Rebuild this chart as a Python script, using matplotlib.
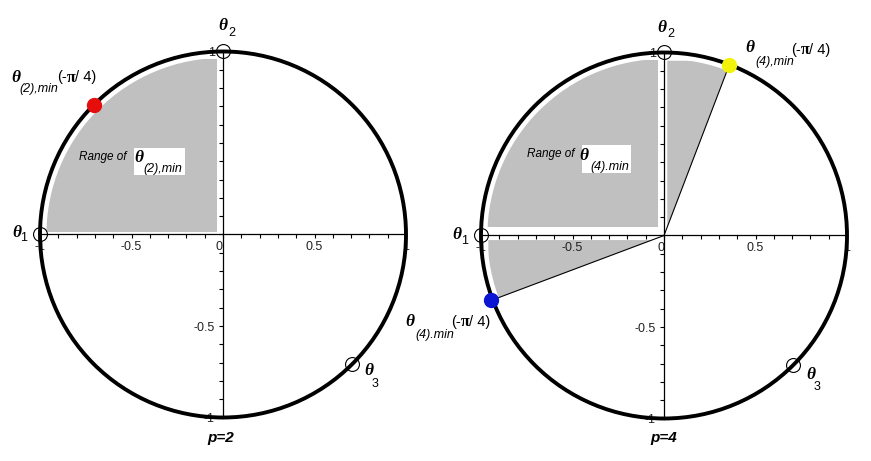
import numpy as np
import matplotlib
matplotlib.use("Agg")
import matplotlib.pyplot as plt
from matplotlib.patches import Circle, Polygon, Rectangle

# ---- data ----
tick_major = [-1, -0.5, 0, 0.5, 1]
x_tick_labels = ["-1", "-0.5", "0", "0.5", "1"]
y_tick_major = [-1, -0.5, 0.5, 1]
y_tick_labels = ["-1", "-0.5", "", "1"]
tick_minor = np.round(np.arange(-1, 1.01, 0.1), 2)

# reference points theta_1, theta_2, theta_3 on the unit circle
ref_x = [-1.0, 0.0, 0.707]
ref_y = [0.0, 1.0, -0.707]

# theta_min(-pi/4) points
red_pt = (-0.707, 0.707)      # p=2
yellow_pt = (0.357, 0.933)    # p=4
blue_pt = (-0.945, -0.355)    # p=4

# grey "range" regions (clipped by a circle slightly inside the unit circle)
gray_p2 = [(-0.98, 0.015), (-0.035, 0.015), (-0.035, 0.96), (-0.98, 0.96)]
gray_p4_a = [(-0.97, 0.045), (-0.035, 0.045), (-0.035, 0.96), (-0.97, 0.96)]
gray_p4_b = [(0.018, 0.047), (0.018, 0.955), (0.29, 0.955), (0.34, 0.889)]
gray_p4_c = [(-0.96, -0.025), (-0.065, -0.025), (-0.90, -0.338), (-0.96, -0.338)]

GRAY = "#c0c0c0"
W, H = 871, 461
S = 183.0  # pixels per unit

fig = plt.figure(figsize=(W / 100, H / 100), dpi=100)


def make_panel(left_px, right_px, cx, cy):
    ax = fig.add_axes([left_px / W, 0, (right_px - left_px) / W, 1])
    ax.set_xlim((left_px - cx) / S, (right_px - cx) / S)
    ax.set_ylim((cy - H) / S, cy / S)
    ax.set_facecolor("none")
    for s in ["top", "right"]:
        ax.spines[s].set_visible(False)
    ax.spines["left"].set_position(("data", 0))
    ax.spines["bottom"].set_position(("data", 0))
    ax.spines["left"].set_bounds(-1, 1)
    ax.spines["bottom"].set_bounds(-1, 1)
    ax.spines["left"].set_linewidth(0.9)
    ax.spines["bottom"].set_linewidth(0.9)
    ax.set_xticks(tick_major)
    ax.set_xticklabels(x_tick_labels)
    ax.set_yticks(y_tick_major)
    ax.set_yticklabels(y_tick_labels)
    ax.set_xticks(tick_minor, minor=True)
    ax.set_yticks(tick_minor, minor=True)
    ax.tick_params(which="both", direction="out", length=3, width=0.8, color="black")
    ax.tick_params(axis="x", pad=2)
    ax.tick_params(axis="y", pad=3)
    for lab in ax.get_xticklabels() + ax.get_yticklabels():
        lab.set_fontfamily("Liberation Sans")
        lab.set_fontsize(9)
        lab.set_color("#222222")
    ax.get_xticklabels()[2].set_horizontalalignment("right")
    return ax, cx, cy


def pix(cx, cy, x, y):
    return (x - cx) / S, (cy - y) / S


def gray_region(ax, verts, r):
    poly = Polygon(verts, closed=True, facecolor=GRAY, edgecolor="none", zorder=1)
    ax.add_patch(poly)
    clip = Circle((0, 0), r, transform=ax.transData)
    poly.set_clip_path(clip)


def theta(ax, cx, cy, tx, ty, sub, sx, sy, subsize=9, subitalic=False):
    ax.text(*pix(cx, cy, tx, ty), "θ", family="Liberation Serif", style="italic",
            weight="bold", fontsize=12.5, ha="center", va="center", zorder=6)
    ax.text(*pix(cx, cy, sx, sy), sub, family="Liberation Sans",
            style="italic" if subitalic else "normal", fontsize=subsize,
            ha="center", va="center", zorder=6)


def minus_pi_4(ax, cx, cy, x, y):
    # "(-π/ 4)" with a bold serif pi, placed from its left edge
    t = ax.text(*pix(cx, cy, x, y), "(-", family="Liberation Sans", fontsize=10.5,
                ha="left", va="center", zorder=6)
    ax.annotate("π", xy=pix(cx, cy, x, y), xytext=(9.5, 0), textcoords="offset pixels",
                family="Liberation Serif", weight="bold", fontsize=11.5,
                ha="left", va="center", zorder=6, annotation_clip=False)
    ax.annotate("/ 4)", xy=pix(cx, cy, x, y), xytext=(17.5, 0), textcoords="offset pixels",
                family="Liberation Sans", fontsize=10.5,
                ha="left", va="center", zorder=6, annotation_clip=False)
    return t


def common(ax, cx, cy):
    ax.add_patch(Circle((0, 0), 1, fill=False, lw=2.8, color="black", zorder=4))
    ax.plot(ref_x, ref_y, "o", mfc="none", mec="black", ms=10, mew=0.8, zorder=5)


# ---------------- p = 2 ----------------
ax1, cx, cy = make_panel(0, 440, 223, 234.5)
gray_region(ax1, gray_p2, 0.965)
common(ax1, cx, cy)
ax1.plot(*red_pt, "o", color="#e60d0d", ms=10, zorder=5)

theta(ax1, cx, cy, 223, 26, "2", 232, 33)
theta(ax1, cx, cy, 16.7, 232.5, "1", 24, 238)
theta(ax1, cx, cy, 369, 371, "3", 375, 384)
theta(ax1, cx, cy, 15.5, 77.5, "(2),min", 38.7, 88.8, subitalic=True)
minus_pi_4(ax1, cx, cy, 57.5, 77.5)

ax1.text(*pix(cx, cy, 103, 156.7), "Range of", family="Liberation Sans",
         style="italic", fontsize=8.5, ha="center", va="center", zorder=6)
bx0, by0 = pix(cx, cy, 134, 175)
bx1, by1 = pix(cx, cy, 185, 148.3)
ax1.add_patch(Rectangle((bx0, by0), bx1 - bx0, by1 - by0, facecolor="white",
                        edgecolor="none", zorder=5))
theta(ax1, cx, cy, 138.8, 157.5, "(2),min", 163, 169, subitalic=True)
ax1.text(*pix(cx, cy, 220.3, 437.8), "p=2", family="Liberation Sans",
         style="italic", weight="bold", fontsize=11, ha="center", va="center")

# ---------------- p = 4 ----------------
ax2, cx, cy = make_panel(440, 871, 664, 235.5)
gray_region(ax2, gray_p4_a, 0.965)
gray_region(ax2, gray_p4_b, 0.965)
gray_region(ax2, gray_p4_c, 0.965)
ax2.plot([0, yellow_pt[0]], [0, yellow_pt[1]], color="black", lw=0.8, zorder=3)
ax2.plot([0, blue_pt[0]], [0, blue_pt[1]], color="black", lw=0.8, zorder=3)
common(ax2, cx, cy)
ax2.plot(*yellow_pt, "o", color="#f2f20a", ms=10, zorder=5)
ax2.plot(*blue_pt, "o", color="#0a14d2", ms=10, zorder=5)

theta(ax2, cx, cy, 662, 28, "2", 670.5, 34)
theta(ax2, cx, cy, 457, 235.3, "1", 464.5, 241)
theta(ax2, cx, cy, 811, 375, "3", 817, 387)
theta(ax2, cx, cy, 750, 48, "(4),min", 774.5, 61.7, subitalic=True)
minus_pi_4(ax2, cx, cy, 791.5, 49.7)
theta(ax2, cx, cy, 410.3, 322, "(4).min", 434.5, 334.5, subitalic=True)
minus_pi_4(ax2, cx, cy, 451.5, 322)

ax2.text(*pix(cx, cy, 551, 154.3), "Range of", family="Liberation Sans",
         style="italic", fontsize=8.5, ha="center", va="center", zorder=6)
bx0, by0 = pix(cx, cy, 581.7, 172.7)
bx1, by1 = pix(cx, cy, 630.7, 145)
ax2.add_patch(Rectangle((bx0, by0), bx1 - bx0, by1 - by0, facecolor="white",
                        edgecolor="none", zorder=5))
theta(ax2, cx, cy, 584, 155.7, "(4).min", 610, 166.7, subitalic=True)
ax2.text(*pix(cx, cy, 664, 438.3), "p=4", family="Liberation Sans",
         style="italic", weight="bold", fontsize=11, ha="center", va="center")

# the blue label spills into the left panel's area, keep it visible
for t in ax2.texts:
    t.set_clip_on(False)
ax1.set_zorder(0)
ax2.set_zorder(1)

fig.savefig("out.png", dpi=100)
